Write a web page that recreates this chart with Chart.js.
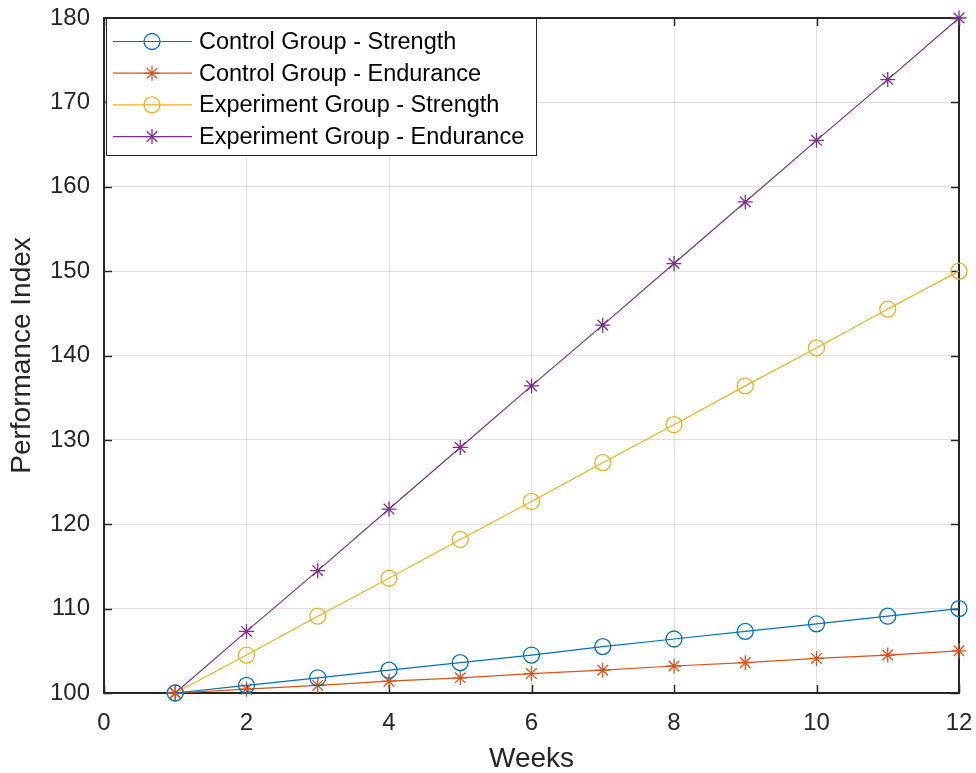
<!DOCTYPE html>
<html>
<head>
<meta charset="utf-8">
<script src="https://cdn.jsdelivr.net/npm/chart.js@4/dist/chart.umd.min.js"></script>
<style>
  html, body { margin: 0; padding: 0; background: #fff; }
  #wrap { width: 976px; height: 773px; position: relative; }
</style>
</head>
<body>
<div id="wrap"><canvas id="c" width="976" height="773"></canvas></div>
<script>
const weeks = [1, 2, 3, 4, 5, 6, 7, 8, 9, 10, 11, 12];
const controlStrength = [100, 100.9, 101.8, 102.7, 103.6, 104.5, 105.5, 106.4, 107.3, 108.2, 109.1, 110];
const controlEndurance = [100, 100.45, 100.9, 101.4, 101.8, 102.3, 102.7, 103.2, 103.6, 104.1, 104.5, 105];
const experimentStrength = [100, 104.5, 109.1, 113.6, 118.2, 122.7, 127.3, 131.8, 136.4, 140.9, 145.5, 150];
const experimentEndurance = [100, 107.3, 114.5, 121.8, 129.1, 136.4, 143.6, 150.9, 158.2, 165.5, 172.7, 180];
const seriesNames = ['Control Group - Strength', 'Control Group - Endurance', 'Experiment Group - Strength', 'Experiment Group - Endurance'];
const xTicks = [0, 2, 4, 6, 8, 10, 12];
const yTicks = [100, 110, 120, 130, 140, 150, 160, 170, 180];

const colors = ['#0072BD', '#D95319', '#EDB120', '#7E2F8E'];
const markers = ['circle', 'star', 'circle', 'star'];
const FONT = '"Liberation Sans", Arial, Helvetica, sans-serif';
const AX = '#262626';

function pts(vals) { return weeks.map((w, i) => ({ x: w, y: vals[i] })); }
const allVals = [controlStrength, controlEndurance, experimentStrength, experimentEndurance];

const datasets = allVals.map((v, i) => ({
  label: seriesNames[i],
  data: pts(v),
  borderColor: colors[i],
  backgroundColor: 'rgba(0,0,0,0)',
  borderWidth: 1.2,
  pointStyle: markers[i],
  pointRadius: markers[i] === 'circle' ? 8 : 7.5,
  pointBorderColor: colors[i],
  pointBorderWidth: 1.3,
  pointBackgroundColor: 'rgba(0,0,0,0)',
  tension: 0,
  clip: false
}));

const boxPlugin = {
  id: 'matlabBox',
  beforeDatasetsDraw(chart) {
    const { ctx, chartArea: a, scales } = chart;
    ctx.save();
    ctx.strokeStyle = AX;
    ctx.lineWidth = 1.5;
    const tl = 8;
    xTicks.forEach(t => {
      const x = Math.round(scales.x.getPixelForValue(t)) + 0.5;
      ctx.beginPath(); ctx.moveTo(x, a.bottom); ctx.lineTo(x, a.bottom - tl); ctx.stroke();
      ctx.beginPath(); ctx.moveTo(x, a.top); ctx.lineTo(x, a.top + tl); ctx.stroke();
    });
    yTicks.forEach(t => {
      const y = Math.round(scales.y.getPixelForValue(t)) + 0.5;
      ctx.beginPath(); ctx.moveTo(a.left, y); ctx.lineTo(a.left + tl, y); ctx.stroke();
      ctx.beginPath(); ctx.moveTo(a.right, y); ctx.lineTo(a.right - tl, y); ctx.stroke();
    });
    ctx.lineWidth = 2;
    ctx.strokeRect(a.left, a.top, a.right - a.left, a.bottom - a.top);
    ctx.restore();
  },
  afterDatasetsDraw(chart) {
    const { ctx, chartArea: a } = chart;
    ctx.save();
    const lx = a.left + 2, ly = a.top, lw = 430, lh = 137;
    ctx.fillStyle = '#fff';
    ctx.fillRect(lx, ly, lw, lh);
    ctx.lineWidth = 1;
    ctx.strokeStyle = AX;
    ctx.strokeRect(lx + 0.5, ly + 0.5, lw, lh);
    ctx.font = '23.5px ' + FONT;
    ctx.textBaseline = 'middle';
    ctx.textAlign = 'left';
    seriesNames.forEach((name, i) => {
      const y = ly + 23.5 + i * 31.7;
      ctx.strokeStyle = colors[i];
      ctx.lineWidth = 1.2;
      ctx.beginPath(); ctx.moveTo(lx + 7, y); ctx.lineTo(lx + 86, y); ctx.stroke();
      ctx.fillStyle = 'rgba(0,0,0,0)';
      ctx.lineWidth = 1.3;
      Chart.helpers.drawPoint(ctx, { pointStyle: markers[i], radius: markers[i] === 'circle' ? 8 : 7.5, rotation: 0, borderWidth: 1.3 }, lx + 46, y);
      ctx.fillStyle = '#000';
      ctx.fillText(name, lx + 93, y + 1);
    });
    ctx.restore();
  }
};

new Chart(document.getElementById('c'), {
  type: 'line',
  data: { datasets },
  options: {
    responsive: false,
    animation: false,
    layout: { padding: { left: 0, right: 17, top: 18, bottom: -3 } },
    plugins: { legend: { display: false }, tooltip: { enabled: false } },
    scales: {
      x: {
        type: 'linear', min: 0, max: 12,
        afterBuildTicks(s) { s.ticks = xTicks.map(v => ({ value: v })); },
        afterFit(s) { s.height = 83; s.paddingLeft = 0; s.paddingRight = 0; },
        grid: { color: 'rgba(0,0,0,0.12)', drawTicks: false, lineWidth: 1 },
        border: { display: false },
        ticks: { color: AX, font: { family: FONT, size: 24 }, padding: 16, maxRotation: 0 },
        title: { display: true, text: 'Weeks', color: AX, font: { family: FONT, size: 28 }, padding: { top: 4, bottom: 0 } }
      },
      y: {
        type: 'linear', min: 100, max: 180,
        afterBuildTicks(s) { s.ticks = yTicks.map(v => ({ value: v })); },
        afterFit(s) { s.width = 104; s.paddingTop = 0; s.paddingBottom = 0; },
        grid: { color: 'rgba(0,0,0,0.12)', drawTicks: false, lineWidth: 1 },
        border: { display: false },
        ticks: { color: AX, font: { family: FONT, size: 24 }, padding: 14 },
        title: { display: true, text: 'Performance Index', color: AX, font: { family: FONT, size: 28 }, padding: { top: 5, bottom: 4 } }
      }
    }
  },
  plugins: [boxPlugin]
});
</script>
</body>
</html>
